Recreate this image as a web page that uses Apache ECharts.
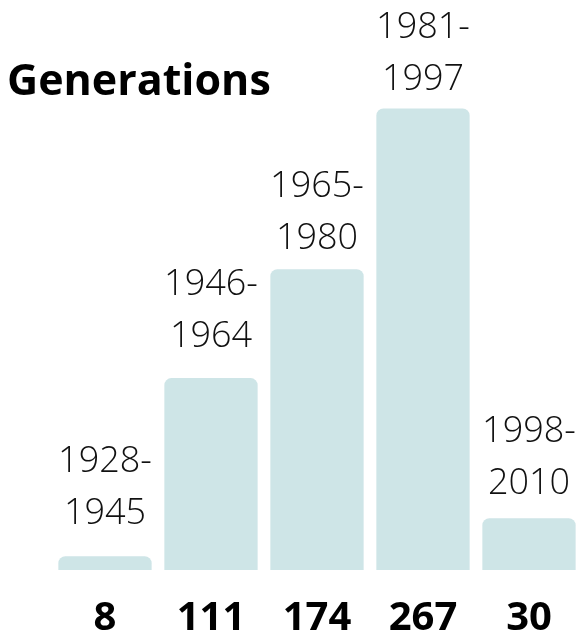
<!DOCTYPE html>
<html>
<head>
<meta charset="utf-8">
<script src="https://cdn.jsdelivr.net/npm/echarts@6/dist/echarts.min.js"></script>
<style>
  html, body { margin: 0; padding: 0; background: #fff; }
  #main { width: 582px; height: 639px; }
</style>
</head>
<body>
<div id="main"></div>
<script>
var categories = ['1928-\n1945', '1946-\n1964', '1965-\n1980', '1981-\n1997', '1998-\n2010'];
var counts = [8, 111, 174, 267, 30];

// label offsets above each bar (the original spacing is not uniform)
var labelGap = [16, 15, 4, 3, 8];

var chart = echarts.init(document.getElementById('main'));
chart.setOption({
    animation: false,
    title: {
        text: 'Generations',
        left: 2,
        top: 56,
        textStyle: {
            fontFamily: 'Open Sans',
            fontWeight: 'bold',
            fontSize: 43,
            color: '#000'
        }
    },
    grid: {
        left: 52,
        right: -4.5,
        top: 51.4,
        bottom: 65
    },
    xAxis: {
        type: 'category',
        data: categories,
        axisLine: { show: false },
        axisTick: { show: false },
        axisLabel: {
            margin: 29,
            fontFamily: 'Open Sans',
            fontWeight: 'bold',
            fontSize: 40,
            color: '#000',
            formatter: function (v, i) { return counts[i]; }
        }
    },
    yAxis: {
        type: 'value',
        min: 0,
        max: 300,
        show: false,
        splitLine: { show: false }
    },
    series: [{
        type: 'bar',
        data: counts.map(function (v, i) {
            return { value: v, label: { distance: labelGap[i] } };
        }),
        barCategoryGap: '12%',
        itemStyle: {
            color: '#cee5e7',
            borderRadius: [7, 7, 0, 0]
        },
        label: {
            show: true,
            position: 'top',
            formatter: '{b}',
            fontFamily: 'Open Sans',
            fontWeight: 300,
            fontSize: 36,
            lineHeight: 52,
            color: '#111'
        }
    }]
});
</script>
</body>
</html>
